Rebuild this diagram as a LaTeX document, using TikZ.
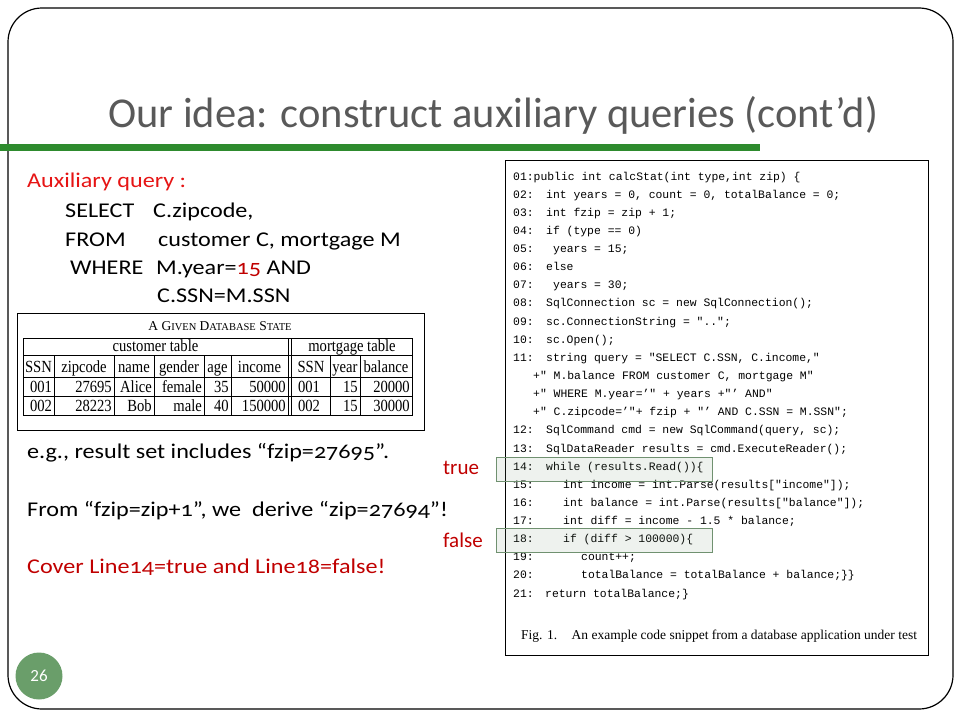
\documentclass[tikz,border=0pt]{standalone}
\usepackage{fontspec}
\setmainfont{Carlito}[Numbers=OldStyle]
\newfontfamily\bodyfont{Carlito}[Numbers=OldStyle, FakeStretch=1.15]
\newfontfamily\pagefont{Carlito}[Numbers=Lining]
\newfontfamily\codefont{Liberation Mono}
\newfontfamily\paperfont{Liberation Serif}
\newfontfamily\tablefont{Liberation Serif}[FakeStretch=0.86]
\definecolor{titlegray}{RGB}{89,89,89}
\definecolor{bargreen}{RGB}{46,139,46}
\definecolor{auxred}{RGB}{230,20,20}
\definecolor{darkred}{RGB}{192,0,0}
\definecolor{pagegreen}{RGB}{106,158,106}
\definecolor{hlgreen}{RGB}{112,145,112}
\tikzset{
	codeline/.style={anchor=base west, inner sep=0pt, font=\codefont\fontsize{11.4}{12}\selectfont},
	body/.style={anchor=base west, inner sep=0pt, font=\bodyfont\fontsize{21}{25}\selectfont},
	cellr/.style={anchor=base east, inner sep=0pt, font=\tablefont\fontsize{17}{17}\selectfont},
	cellc/.style={anchor=base, inner sep=0pt, font=\tablefont\fontsize{17}{17}\selectfont},
	hlbox/.style={draw=hlgreen, line width=1pt, fill=hlgreen, fill opacity=0.12}
}
\def\codeline#1#2#3#4{\node[codeline] (n#1) at (513, #2) {#1:}; \node[codeline] (c#1) at (#3, #2) {#4};}

\begin{document}
\begin{tikzpicture}[x=1pt, y=-1pt]
			%%%%% START %%%%%
			\useasboundingbox (0, 0) rectangle (960, 720);
			\draw[line width=1.2pt, rounded corners=34pt] (8, 8) rectangle (953, 709);
			
			\node[anchor=base west, inner sep=0pt, text=titlegray, font=\fontsize{42.5}{50}\selectfont] (title) at (108, 127) {Our idea: construct auxiliary queries (cont’d)};
			\fill[bargreen] (0, 144) rectangle (760, 151);
			
			\node[body, text=auxred] (aux) at (27, 187) {Auxiliary query :};
			\node[body] (sel) at (65, 217) {SELECT};
			\node[body] (selv) at (153, 217) {C.zipcode,};
			\node[body] (from) at (65, 246) {FROM};
			\node[body] (fromv) at (158, 246) {customer C, mortgage M};
			\node[body] (where) at (70, 274) {WHERE};
			\node[body] (wherev) at (156, 274) {M.year=\textcolor{darkred}{15} AND};
			\node[body] (join) at (157, 302) {C.SSN=M.SSN};
			
			% database state
			\draw[line width=0.6pt] (17, 313) rectangle (424, 430);
			\node[anchor=base, inner sep=0pt, font=\paperfont\fontsize{13.5}{14}\selectfont] (dbstate) at (220, 330) {A G{\fontsize{10.5}{11}\selectfont IVEN} D{\fontsize{10.5}{11}\selectfont ATABASE} S{\fontsize{10.5}{11}\selectfont TATE}};
			\draw[line width=0.6pt] (23, 338) rectangle (412, 415);
			\draw[line width=0.6pt] (23, 355) -- (412, 355);
			\draw[line width=0.6pt] (23, 377) -- (412, 377);
			\draw[line width=0.6pt] (23, 396) -- (412, 396);
			\draw[line width=0.6pt] (288, 338) -- (288, 415);
			\draw[line width=0.6pt] (291.5, 338) -- (291.5, 415);
			\draw[line width=0.6pt] (54, 355) -- (54, 415);
			\draw[line width=0.6pt] (114, 355) -- (114, 415);
			\draw[line width=0.6pt] (154, 355) -- (154, 415);
			\draw[line width=0.6pt] (204, 355) -- (204, 415);
			\draw[line width=0.6pt] (231, 355) -- (231, 415);
			\draw[line width=0.6pt] (330, 355) -- (330, 415);
			\draw[line width=0.6pt] (360, 355) -- (360, 415);
			
			\node[cellc] (custt) at (155.5, 351.5) {customer table};
			\node[cellc] (mortt) at (352, 351.5) {mortgage table};
			
			\node[cellc] (h1) at (38.5, 372) {SSN};
			\node[cellc] (h2) at (84, 372) {zipcode};
			\node[cellc] (h3) at (134, 372) {name};
			\node[cellc] (h4) at (179, 372) {gender};
			\node[cellc] (h5) at (217.5, 372) {age};
			\node[cellc] (h6) at (259.5, 372) {income};
			\node[cellc] (h7) at (311, 372) {SSN};
			\node[cellc] (h8) at (345, 372) {year};
			\node[cellc] (h9) at (386, 372) {balance};
			
			\node[cellc] (a1) at (41, 392) {001};
			\node[cellr] (a2) at (112, 392) {27695};
			\node[cellr] (a3) at (152, 392) {Alice};
			\node[cellr] (a4) at (202, 392) {female};
			\node[cellr] (a5) at (229, 392) {35};
			\node[cellr] (a6) at (286, 392) {50000};
			\node[cellc] (a7) at (309, 392) {001};
			\node[cellr] (a8) at (358, 392) {15};
			\node[cellr] (a9) at (410, 392) {20000};
			
			\node[cellc] (b1) at (41, 411) {002};
			\node[cellr] (b2) at (112, 411) {28223};
			\node[cellr] (b3) at (152, 411) {Bob};
			\node[cellr] (b4) at (202, 411) {male};
			\node[cellr] (b5) at (229, 411) {40};
			\node[cellr] (b6) at (286, 411) {150000};
			\node[cellc] (b7) at (309, 411) {002};
			\node[cellr] (b8) at (358, 411) {15};
			\node[cellr] (b9) at (410, 411) {30000};
			
			\node[body] (eg) at (27, 458) {e.g., result set includes “fzip=27695”.};
			\node[body] (derive) at (27, 516) {From “fzip=zip+1”, we\ \ derive “zip=27694”!};
			\node[body, text=darkred] (cover) at (27, 573) {Cover Line14=true and Line18=false!};
			
			% code snippet
			\draw[line width=0.8pt] (505, 160) rectangle (928, 655);
			\node[codeline] (c01) at (513, 180.0) {01:public int calcStat(int type,int zip) \{};
			\codeline{02}{198.1}{546}{int years = 0, count = 0, totalBalance = 0;}
			\codeline{03}{216.3}{546}{int fzip = zip + 1;}
			\codeline{04}{234.4}{546}{if (type == 0)}
			\codeline{05}{252.5}{553}{years = 15;}
			\codeline{06}{270.7}{546}{else}
			\codeline{07}{288.8}{553}{years = 30;}
			\codeline{08}{306.9}{546}{SqlConnection sc = new SqlConnection();}
			\codeline{09}{325.0}{546}{sc.ConnectionString = "..";}
			\codeline{10}{343.2}{546}{sc.Open();}
			\codeline{11}{361.3}{546}{string query = "SELECT C.SSN, C.income,"}
			\node[codeline] (c11a) at (533, 379.4) {+" M.balance FROM customer C, mortgage M"};
			\node[codeline] (c11b) at (533, 397.6) {+" WHERE M.year=’" + years +"’ AND"};
			\node[codeline] (c11c) at (533, 415.7) {+" C.zipcode=’"+ fzip + "’ AND C.SSN = M.SSN";};
			\codeline{12}{433.8}{546}{SqlCommand cmd = new SqlCommand(query, sc);}
			\codeline{13}{452.0}{546}{SqlDataReader results = cmd.ExecuteReader();}
			\codeline{14}{470.1}{546}{while (results.Read())\{}
			\codeline{15}{488.2}{563}{int income = int.Parse(results["income"]);}
			\codeline{16}{506.3}{563}{int balance = int.Parse(results["balance"]);}
			\codeline{17}{524.5}{563}{int diff = income - 1.5 * balance;}
			\codeline{18}{542.6}{563}{if (diff > 100000)\{}
			\codeline{19}{560.7}{581}{count++;}
			\codeline{20}{578.9}{581}{totalBalance = totalBalance + balance;\}\}}
			\codeline{21}{597.0}{545}{return totalBalance;\}}
			\node[anchor=base west, inner sep=0pt, font=\paperfont\fontsize{13.5}{14}\selectfont] (fig) at (521, 639) {Fig. 1.\hspace{10pt} An example code snippet from a database application under test};
			
			\draw[hlbox] (496, 457) rectangle (712, 481);
			\draw[hlbox] (496, 528) rectangle (712, 552);
			\node[anchor=base west, inner sep=0pt, text=darkred, font=\fontsize{21}{25}\selectfont] (true) at (443, 474) {true};
			\node[anchor=base west, inner sep=0pt, text=darkred, font=\fontsize{21}{25}\selectfont] (false) at (443, 547) {false};
			
			\fill[pagegreen] (39, 676) circle (23.5);
			\node[text=white, font=\pagefont\fontsize{17}{18}\selectfont] (page) at (39, 676) {26};
			%%%%% END %%%%%
\end{tikzpicture}
\end{document}
